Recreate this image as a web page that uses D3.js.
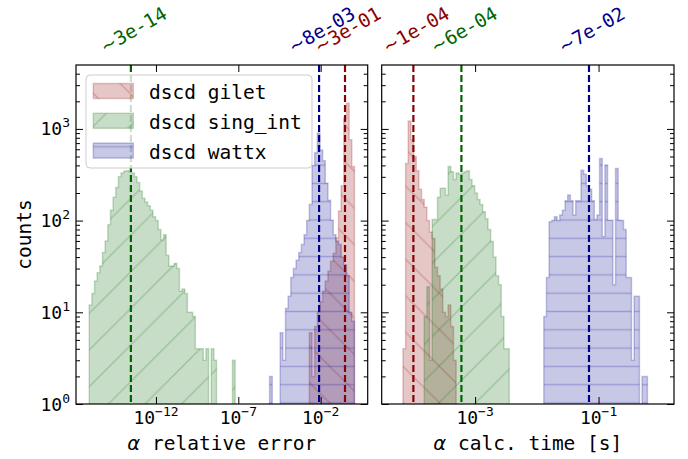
<!DOCTYPE html>
<html>
<head>
<meta charset="utf-8">
<script src="https://cdn.jsdelivr.net/npm/d3@7"></script>
<style>
  body { margin: 0; background: #fff; }
  text { font-family: "DejaVu Sans Mono", monospace; fill: #000; }
</style>
</head>
<body>
<svg id="chart" width="688" height="459"></svg>
<script>
// log10 range covered by the histogram bins of each panel, same bins for all series
var errBinRange = [-16.05, 0.05];
var timeBinRange = [-4.298, 0.007];
var binCount = 100;

var seriesNames = ["dscd gilet", "dscd sing_int", "dscd wattx"];

// relative error panel: index of first bin, then counts
var giletErrStart = 83;
var giletErr = [6, 2, 7, 10, 13, 17, 22, 28, 36, 44, 65, 127, 240, 1300, 1900, 760, 390];
var singErrStart = 0;
var singErr = [12, 16, 22, 27, 32, 45, 60, 90, 130, 180, 230, 300, 330, 345, 350, 340, 330, 300, 260, 210,
  175, 160, 145, 130, 110, 100, 80, 62, 70, 42, 32, 32, 34, 30, 17, 18, 16, 10, 10, 9,
  4, 4, 4, 3, 4, 0, 4, 3, 0, 0, 0, 0, 0, 0, 3];
var wattxErrStart = 68;
var wattxErr = [2, 0, 0, 0, 6, 3, 11, 15, 24, 30, 37, 45, 55, 70, 100, 150, 400, 550, 900, 590,
  450, 255, 167, 101, 70, 60, 55, 40, 33, 25, 10, 8];

// calc time panel
var giletTimeStart = 3;
var giletTime = [4, 420, 1220, 760, 500, 350, 220, 170, 140, 100, 75, 64, 31, 25, 18, 10, 9, 12, 7, 3];
var singTimeStart = 11;
var singTime = [9, 19, 3, 103, 103, 180, 225, 225, 190, 390, 340, 280, 330, 320, 330, 340, 350, 280, 240, 200,
  170, 150, 125, 105, 80, 59, 40, 25, 20, 9, 4, 4];
var wattxTimeStart = 56;
var wattxTime = [9, 24, 97, 100, 110, 100, 115, 130, 165, 190, 165, 115, 165, 165, 355, 320, 240, 220, 165, 103,
  115, 475, 67, 405, 101, 101, 20, 370, 101, 100, 80, 24, 24, 3, 15, 15, 1, 2, 2];

// typical values marked by the dashed lines
var errMarks = [3e-1, 3e-14, 8e-3];
var errMarkLabels = ["3e-01", "3e-14", "8e-03"];
var timeMarks = [1e-4, 6e-4, 7e-2];
var timeMarkLabels = ["1e-04", "6e-04", "7e-02"];

var errTicks = [1e-12, 1e-7, 1e-2];
var errTickExp = ["−12", "−7", "−2"];
var timeTicks = [1e-3, 1e-1];
var timeTickExp = ["−3", "−1"];
var countTicks = [1, 10, 100, 1000];
var countTickExp = ["0", "1", "2", "3"];
var countMax = 4977;

var colors = ["#8b0000", "#006400", "#00008b"];
var hatches = ["back", "fwd", "horiz"];
var alpha = 0.22;

var svg = d3.select("#chart");
var defs = svg.append("defs");

var plotTop = 65, plotBottom = 404;

function addHatch(id, color, kind) {
  var p;
  if (kind === "horiz") {
    p = defs.append("pattern").attr("id", id).attr("patternUnits", "userSpaceOnUse")
      .attr("width", 20).attr("height", 18.3).attr("y", 0.4 - 9.15);
    p.append("path").attr("d", "M0,9.15H20");
  } else {
    var s = 36.6, h = s / 2;
    p = defs.append("pattern").attr("id", id).attr("patternUnits", "userSpaceOnUse")
      .attr("width", s).attr("height", s);
    if (kind === "fwd") {
      p.append("path").attr("d", "M0," + s + "L" + s + ",0M" + (-h) + "," + h + "L" + h + "," + (-h) +
        "M" + h + "," + (s + h) + "L" + (s + h) + "," + h);
    } else {
      p.append("path").attr("d", "M0,0L" + s + "," + s + "M" + (-h) + "," + h + "L" + h + "," + (s + h) +
        "M" + h + "," + (-h) + "L" + (s + h) + "," + h);
    }
  }
  p.select("path").attr("stroke", color).attr("stroke-opacity", alpha)
    .attr("stroke-width", 1.4).attr("fill", "none");
}
colors.forEach(function(c, i) { addHatch("hatch" + i, c, hatches[i]); });

var y = d3.scaleLog().domain([1, countMax]).range([plotBottom, plotTop]);

var panels = [
  {
    left: 76, right: 367.7, bins: errBinRange,
    series: [[giletErrStart, giletErr], [singErrStart, singErr], [wattxErrStart, wattxErr]],
    marks: errMarks, markLabels: errMarkLabels,
    ticks: errTicks, tickExp: errTickExp,
    label: "relative error", yLabels: true, legend: true
  },
  {
    left: 381.7, right: 674, bins: timeBinRange,
    series: [[giletTimeStart, giletTime], [singTimeStart, singTime], [wattxTimeStart, wattxTime]],
    marks: timeMarks, markLabels: timeMarkLabels,
    ticks: timeTicks, tickExp: timeTickExp,
    label: "calc. time [s]", yLabels: false, legend: false
  }
];

var minorCounts = [];
for (var d = 0; d < 4; d++) {
  for (var m = 2; m < 10; m++) {
    if (m * Math.pow(10, d) < countMax) minorCounts.push(m * Math.pow(10, d));
  }
}

panels.forEach(function(p, pi) {
  var span = p.bins[1] - p.bins[0];
  var x = d3.scaleLog()
    .domain([Math.pow(10, p.bins[0] - 0.05 * span), Math.pow(10, p.bins[1] + 0.05 * span)])
    .range([p.left, p.right]);

  var edges = d3.range(binCount + 1).map(function(i) {
    return Math.pow(10, p.bins[0] + span * i / binCount);
  });

  defs.append("clipPath").attr("id", "clip" + pi).append("rect")
    .attr("x", p.left).attr("y", plotTop).attr("width", p.right - p.left).attr("height", plotBottom - plotTop);

  var plot = svg.append("g").attr("clip-path", "url(#clip" + pi + ")");

  p.series.forEach(function(s, si) {
    var start = s[0], counts = s[1];
    var pts = [[x(edges[start]), plotBottom + 10]];
    counts.forEach(function(c, k) {
      var yy = c > 0 ? y(c) : plotBottom + 10;
      pts.push([x(edges[start + k]), yy]);
      pts.push([x(edges[start + k + 1]), yy]);
    });
    pts.push([x(edges[start + counts.length]), plotBottom + 10]);
    var dPath = d3.line()(pts) + "Z";
    plot.append("path").attr("d", dPath)
      .attr("fill", colors[si]).attr("fill-opacity", alpha);
    plot.append("path").attr("d", dPath).attr("fill", "url(#hatch" + si + ")");
    plot.append("path").attr("d", dPath).attr("fill", "none")
      .attr("stroke", colors[si]).attr("stroke-opacity", alpha).attr("stroke-width", 1.5);
  });

  // dashed marker lines and their rotated labels
  p.marks.forEach(function(v, si) {
    plot.append("line")
      .attr("x1", x(v)).attr("x2", x(v)).attr("y1", plotTop).attr("y2", plotBottom)
      .attr("stroke", colors[si]).attr("stroke-width", 2.2).attr("stroke-dasharray", "7,3");
    var t = svg.append("text")
      .attr("transform", "translate(" + (x(v) + 2.5) + ",30) rotate(-30)")
      .attr("text-anchor", "middle").attr("dy", "0.35em")
      .attr("font-size", "19px").style("fill", colors[si]);
    t.append("tspan").style("font-family", "'DejaVu Sans', sans-serif").text("∼");
    t.append("tspan").text(p.markLabels[si]);
  });

  // ticks on all four sides, pointing inward
  var gx = svg.append("g").attr("transform", "translate(0," + plotBottom + ")")
    .call(d3.axisBottom(x).tickValues(p.ticks).tickSizeInner(-7).tickSizeOuter(0).tickFormat(""));
  var gxt = svg.append("g").attr("transform", "translate(0," + plotTop + ")")
    .call(d3.axisTop(x).tickValues(p.ticks).tickSizeInner(-7).tickSizeOuter(0).tickFormat(""));
  var gl = svg.append("g").attr("transform", "translate(" + p.left + ",0)")
    .call(d3.axisLeft(y).tickValues(countTicks).tickSizeInner(-7).tickSizeOuter(0).tickFormat(""));
  var glm = svg.append("g").attr("transform", "translate(" + p.left + ",0)")
    .call(d3.axisLeft(y).tickValues(minorCounts).tickSizeInner(-4).tickSizeOuter(0).tickFormat(""));
  var gr = svg.append("g").attr("transform", "translate(" + p.right + ",0)")
    .call(d3.axisRight(y).tickValues(countTicks).tickSizeInner(-7).tickSizeOuter(0).tickFormat(""));
  var grm = svg.append("g").attr("transform", "translate(" + p.right + ",0)")
    .call(d3.axisRight(y).tickValues(minorCounts).tickSizeInner(-4).tickSizeOuter(0).tickFormat(""));
  [gx, gxt, gl, glm, gr, grm].forEach(function(g) {
    g.select(".domain").remove();
    g.selectAll("line").attr("stroke", "#000").attr("stroke-width", 1);
  });

  svg.append("rect")
    .attr("x", p.left).attr("y", plotTop).attr("width", p.right - p.left).attr("height", plotBottom - plotTop)
    .attr("fill", "none").attr("stroke", "#000").attr("stroke-width", 1.2);

  // x tick labels
  p.ticks.forEach(function(t, ti) {
    var tx = svg.append("text").attr("x", x(t)).attr("y", 424)
      .attr("text-anchor", "middle").attr("font-size", "18px");
    tx.append("tspan").text("10");
    tx.append("tspan").attr("dy", -8).attr("font-size", "13px").text(p.tickExp[ti]);
  });

  var xl = svg.append("text")
    .attr("x", (p.left + p.right) / 2).attr("y", 450)
    .attr("text-anchor", "middle").attr("font-size", "19.5px");
  xl.append("tspan").style("font-family", "'DejaVu Sans', sans-serif").style("font-style", "italic").text("α");
  xl.append("tspan").text(" " + p.label);

  if (p.yLabels) {
    countTicks.forEach(function(c, ci) {
      var ty = svg.append("text").attr("x", 70).attr("y", y(c) + 6.5)
        .attr("text-anchor", "end").attr("font-size", "18px");
      ty.append("tspan").text("10");
      ty.append("tspan").attr("dy", -8).attr("font-size", "13px").text(countTickExp[ci]);
    });
    svg.append("text")
      .attr("transform", "translate(31," + ((plotTop + plotBottom) / 2) + ") rotate(-90)")
      .attr("text-anchor", "middle").attr("font-size", "19.5px")
      .text("counts");
  }

  if (p.legend) {
    var lg = svg.append("g");
    lg.append("rect").attr("x", 86).attr("y", 75).attr("width", 226).attr("height", 93).attr("rx", 4)
      .attr("fill", "#fff").attr("fill-opacity", 0.8).attr("stroke", "#cccccc").attr("stroke-width", 1);
    seriesNames.forEach(function(name, si) {
      var cy = 91 + si * 29.8;
      var r = function() {
        return lg.append("rect").attr("x", 93.3).attr("y", cy - 7.5).attr("width", 40).attr("height", 15);
      };
      r().attr("fill", colors[si]).attr("fill-opacity", alpha);
      r().attr("fill", "url(#hatch" + si + ")");
      r().attr("fill", "none").attr("stroke", colors[si]).attr("stroke-opacity", alpha).attr("stroke-width", 1.5);
      lg.append("text").attr("x", 149).attr("y", cy + 8).attr("font-size", "19.5px").text(name);
    });
  }
});
</script>
</body>
</html>
